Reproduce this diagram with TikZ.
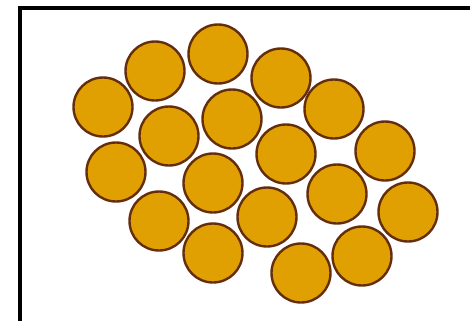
\documentclass[tikz,border=0pt]{standalone}
\usepackage{tikz}

\definecolor{grainfill}{RGB}{224,160,2}
\definecolor{grainedge}{RGB}{100,45,12}

\begin{document}
\begin{tikzpicture}[x=0.05cm,y=-0.05cm,line cap=round,line join=round,
  grain/.style={circle,draw=grainedge,fill=grainfill,line width=0.12cm,inner sep=0pt,minimum size=2.95cm}]
\useasboundingbox (0,0) rectangle (470,321);
\draw[line width=0.2cm,line cap=butt,line join=miter] (20,321) -- (20,8) -- (470,8);
\node[grain] (g1) at (103,107) {};
\node[grain] (g2) at (155,71) {};
\node[grain] (g3) at (218,54) {};
\node[grain] (g4) at (281,78) {};
\node[grain] (g5) at (334,109) {};
\node[grain] (g6) at (385,151) {};
\node[grain] (g7) at (408,212) {};
\node[grain] (g8) at (362,256) {};
\node[grain] (g9) at (301,273) {};
\node[grain] (g10) at (213,253) {};
\node[grain] (g11) at (159,221) {};
\node[grain] (g12) at (116,172) {};
\node[grain] (g13) at (169,136) {};
\node[grain] (g14) at (232,119) {};
\node[grain] (g15) at (286,154) {};
\node[grain] (g16) at (337,194) {};
\node[grain] (g17) at (267,217) {};
\node[grain] (g18) at (213,183) {};
\end{tikzpicture}
\end{document}
